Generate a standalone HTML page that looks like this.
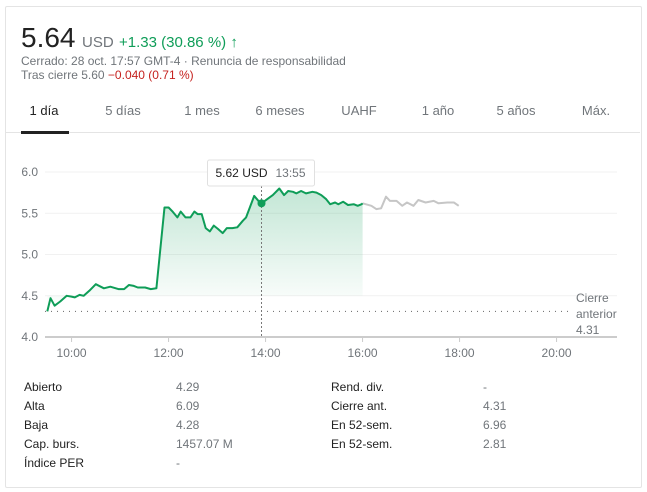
<!DOCTYPE html>
<html><head><meta charset="utf-8"><style>
body{margin:0;width:647px;height:492px;background:#fff;font-family:"Liberation Sans",Arial,sans-serif;position:relative;overflow:hidden}
.card{position:absolute;left:5px;top:6px;width:635px;height:480px;border:1px solid #e4e4e4;border-radius:2px}
.t{position:absolute;white-space:nowrap}
.tab{position:absolute;top:103px;font-size:13px;color:#70757a;transform:translateX(-50%)}
.lab{position:absolute;font-size:12px;color:#222}
.val{position:absolute;font-size:12px;color:#70757a}
</style></head><body>
<div class="card"></div>
<div class="t" style="left:21px;top:22px;font-size:28px;color:#222">5.64</div>
<div class="t" style="left:82px;top:34px;font-size:15px;color:#70757a">USD</div>
<div class="t" style="left:119px;top:34px;font-size:15px;color:#0f9d58">+1.33 (30.86 %) <span style="font-weight:bold">&#x2191;</span></div>
<div class="t" style="left:21px;top:54px;font-size:12px;color:#70757a">Cerrado: 28 oct. 17:57 GMT-4 · <span>Renuncia de responsabilidad</span></div>
<div class="t" style="left:21px;top:68px;font-size:12px;color:#70757a">Tras cierre 5.60 <span style="color:#c5221f">−0.040 (0.71 %)</span></div>
<div class="tab" style="left:44px;color:#222">1 día</div>
<div class="tab" style="left:123px">5 días</div>
<div class="tab" style="left:202px">1 mes</div>
<div class="tab" style="left:280px">6 meses</div>
<div class="tab" style="left:359px">UAHF</div>
<div class="tab" style="left:438px">1 año</div>
<div class="tab" style="left:516px">5 años</div>
<div class="tab" style="left:596px">Máx.</div>
<div style="position:absolute;left:6px;top:132px;width:634px;height:1px;background:#e4e4e4"></div>
<div style="position:absolute;left:21px;top:131px;width:48px;height:3px;background:#222"></div>

<svg id="chart" width="647" height="370" style="position:absolute;left:0;top:0" xmlns="http://www.w3.org/2000/svg">
<defs><linearGradient id="g" x1="0" y1="0" x2="0" y2="1"><stop offset="0" stop-color="#0f9d58" stop-opacity="0.25"/><stop offset="1" stop-color="#0f9d58" stop-opacity="0"/></linearGradient></defs>
</svg>

<div class="lab" style="left:24px;top:380px">Abierto</div>
<div class="val" style="left:176px;top:380px">4.29</div>
<div class="lab" style="left:24px;top:399px">Alta</div>
<div class="val" style="left:176px;top:399px">6.09</div>
<div class="lab" style="left:24px;top:418px">Baja</div>
<div class="val" style="left:176px;top:418px">4.28</div>
<div class="lab" style="left:24px;top:437px">Cap. burs.</div>
<div class="val" style="left:176px;top:437px">1457.07 M</div>
<div class="lab" style="left:24px;top:456px">Índice PER</div>
<div class="val" style="left:176px;top:456px">-</div>
<div class="lab" style="left:331px;top:380px">Rend. div.</div>
<div class="val" style="left:483px;top:380px">-</div>
<div class="lab" style="left:331px;top:399px">Cierre ant.</div>
<div class="val" style="left:483px;top:399px">4.31</div>
<div class="lab" style="left:331px;top:418px">En 52-sem.</div>
<div class="val" style="left:483px;top:418px">6.96</div>
<div class="lab" style="left:331px;top:437px">En 52-sem.</div>
<div class="val" style="left:483px;top:437px">2.81</div>

<script>
const sessionMinutes=[570,574,579,586,594,600,604,610,615,622,630,640,648,658,665,671,677,682,691,698,705,715,720,725,731,735,741,747,752,756,761,766,771,776,781,787,792,799,805,812,816,826,832,835,849,857,863,868,874,878,884,890,898,903,909,915,920,926,930,936,942,949,954,959,960];
const sessionPrices=[4.31,4.47,4.38,4.43,4.50,4.49,4.48,4.51,4.50,4.56,4.64,4.59,4.61,4.58,4.58,4.63,4.62,4.60,4.60,4.58,4.59,5.57,5.57,5.52,5.45,5.52,5.45,5.45,5.52,5.49,5.49,5.32,5.28,5.35,5.31,5.26,5.32,5.32,5.33,5.41,5.45,5.71,5.64,5.62,5.72,5.80,5.72,5.77,5.76,5.74,5.77,5.74,5.76,5.75,5.72,5.67,5.61,5.63,5.61,5.64,5.60,5.61,5.59,5.61,5.62];
const afterMinutes=[960,971,977,983,989,994,1002,1009,1015,1023,1029,1038,1048,1054,1065,1073,1079];
const afterPrices=[5.62,5.59,5.55,5.56,5.70,5.65,5.65,5.59,5.63,5.59,5.66,5.63,5.65,5.62,5.63,5.63,5.59];
const yTicks=[4.0,4.5,5.0,5.5,6.0];
const yTickLabels=["4.0","4.5","5.0","5.5","6.0"];
const xTicks=[600,720,840,960,1080,1200];
const xTickLabels=["10:00","12:00","14:00","16:00","18:00","20:00"];
const prevClose=4.31;
const hoverMinute=835, hoverPrice=5.62, hoverLabel="13:55";

const NS="http://www.w3.org/2000/svg";
const svg=document.getElementById('chart');
const X=m=>47.3+(m-570)/60*48.5;
const Y=p=>337-(p-4)*82.5;
function mk(tag,attrs){const e=document.createElementNS(NS,tag);for(const k in attrs)e.setAttribute(k,attrs[k]);svg.appendChild(e);return e;}

yTicks.forEach((v,i)=>{
  if(i>0){const l=mk('line',{x1:45,x2:617,y1:Y(v),y2:Y(v),stroke:'#f1f1f1'});
  
  }
  const t=mk('text',{x:38,y:Y(v)+4,'text-anchor':'end','font-size':12,fill:'#70757a','font-family':'Liberation Sans, sans-serif'});
  t.textContent=yTickLabels[i];
  
  
});
const ax=mk('line',{x1:45,x2:617,y1:Y(4),y2:Y(4),stroke:'#ccc','stroke-width':2});


xTicks.forEach((m,i)=>{
  const tk=mk('line',{x1:X(m),x2:X(m),y1:Y(4),y2:Y(4)+5,stroke:'#ccc'});
  
  
  const t=mk('text',{x:X(m),y:357,'text-anchor':'middle','font-size':12,fill:'#70757a','font-family':'Liberation Sans, sans-serif'});
  t.textContent=xTickLabels[i];
  
  
});
const pc=mk('line',{x1:45,x2:572,y1:Y(prevClose),y2:Y(prevClose),stroke:'#666','stroke-dasharray':'1,5'});


['Cierre','anterior',String(prevClose)].forEach((s,i)=>{
  const t=mk('text',{x:576,y:302+i*16,'font-size':12,fill:'#70757a','font-family':'Liberation Sans, sans-serif'});
  t.textContent=s;
  
  
});
let d='';sessionMinutes.forEach((m,i)=>{d+=(i?'L':'M')+X(m).toFixed(1)+','+Y(sessionPrices[i]).toFixed(1);});
const area=mk('path',{d:d+'L'+X(sessionMinutes[0]+390).toFixed(1)+','+Y(4.5)+'L'+X(570)+','+Y(4.5)+'Z',fill:'url(#g)'});
area.setAttribute('d',d+'L'+X(sessionMinutes[sessionMinutes.length-1]).toFixed(1)+','+Y(4.5)+'L'+X(sessionMinutes[0]).toFixed(1)+','+Y(4.5)+'Z');


let d2='';afterMinutes.forEach((m,i)=>{d2+=(i?'L':'M')+X(m).toFixed(1)+','+Y(afterPrices[i]).toFixed(1);});
const ah=mk('path',{d:d2,fill:'none',stroke:'#c6c6c6','stroke-width':2,'stroke-linejoin':'round'});


const sl=mk('path',{d:d,fill:'none',stroke:'#0f9d58','stroke-width':2,'stroke-linejoin':'round'});


const hx=X(hoverMinute);
const vl=mk('line',{x1:hx,x2:hx,y1:186,y2:Y(4),stroke:'#777','stroke-dasharray':'2,2'});


const dot=mk('circle',{cx:hx,cy:Y(hoverPrice),r:4,fill:'#0f9d58'});


const box=mk('rect',{x:hx-54,y:160,width:107,height:26,fill:'#fff',stroke:'#e0e0e0',rx:2});


const tt=mk('text',{x:hx-46,y:177,'font-size':12,fill:'#222','font-family':'Liberation Sans, sans-serif'});
tt.textContent=hoverPrice.toFixed(2)+' USD';


const tt2=mk('text',{x:hx+14,y:177,'font-size':12,fill:'#70757a','font-family':'Liberation Sans, sans-serif'});
tt2.textContent=hoverLabel;


</script>
</body></html>
